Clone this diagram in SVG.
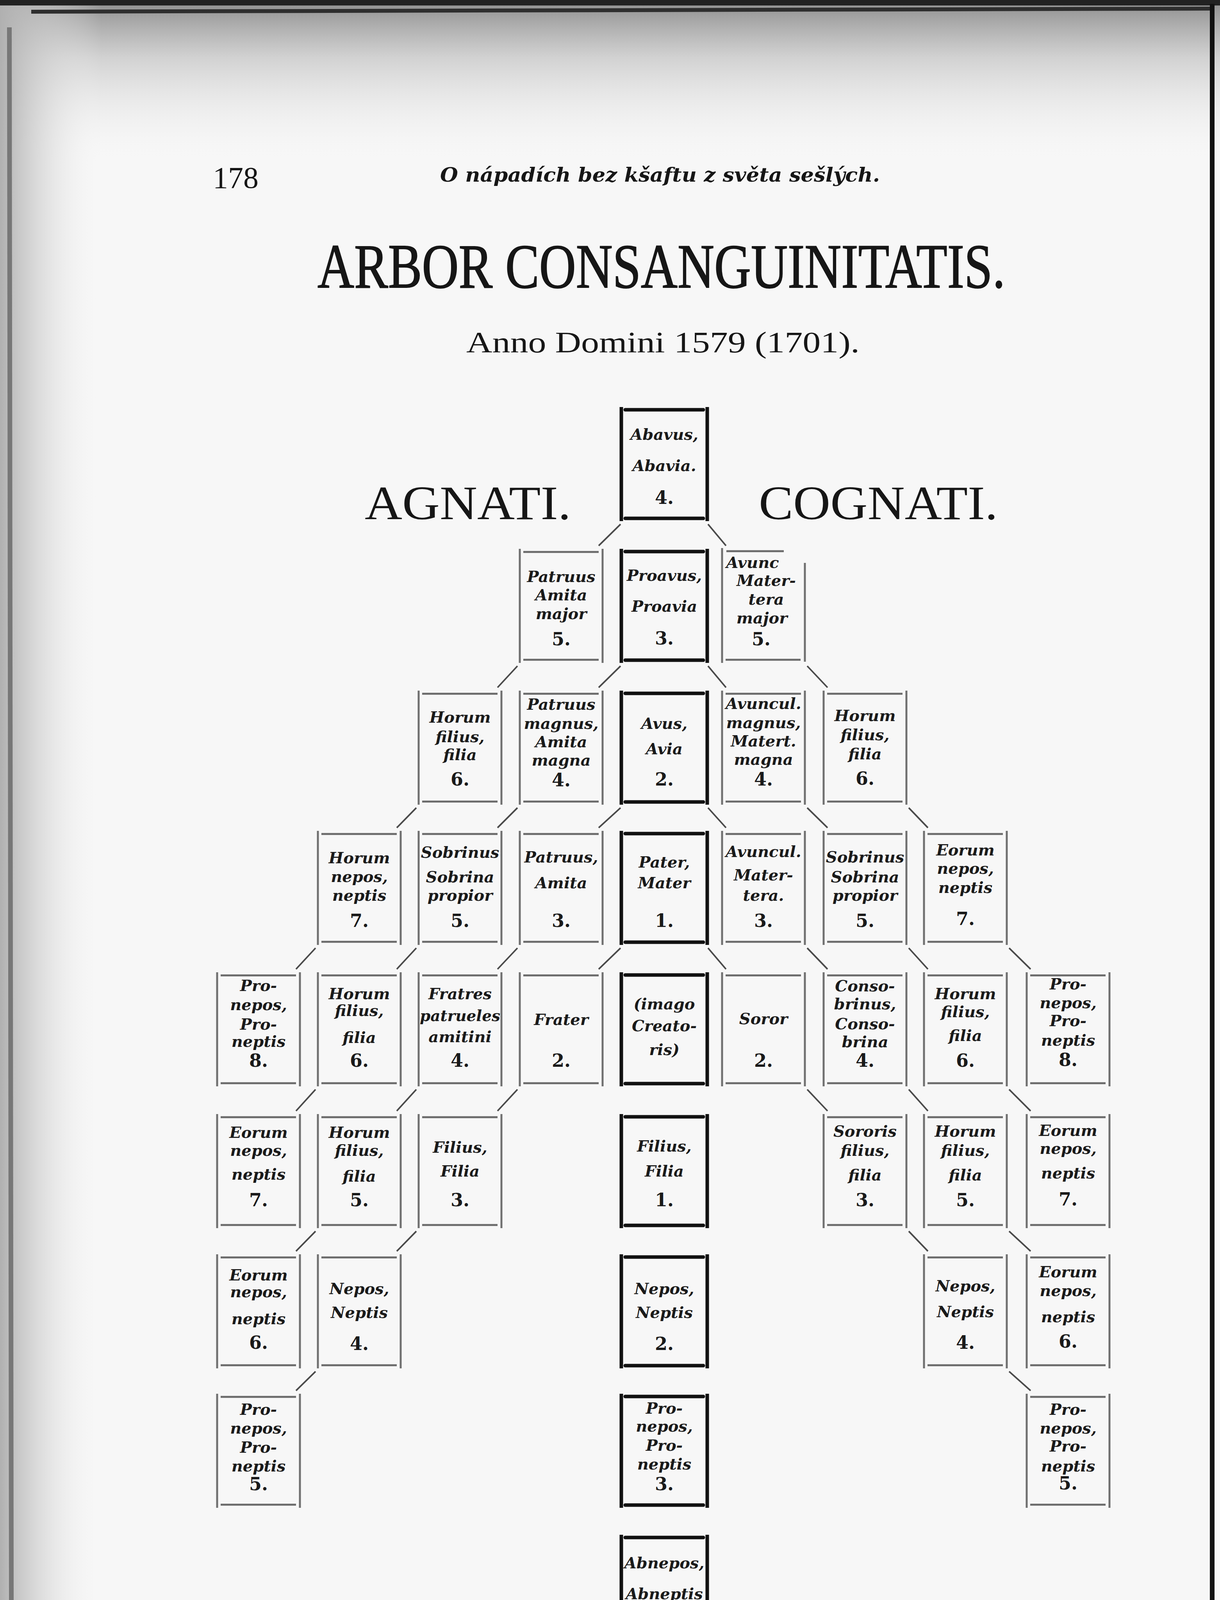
<svg xmlns="http://www.w3.org/2000/svg" xmlns:xlink="http://www.w3.org/1999/xlink" width="3124" height="4889" viewBox="0 0 3124 4889">
<style>
.v{stroke:#707070;stroke-width:5;fill:none}
.h{stroke:#6a6a6a;stroke-width:5;fill:none}
.kv{stroke:#111;stroke-width:9;fill:none}
.kh{stroke:#111;stroke-width:9;fill:none;stroke-linecap:round}
.c{stroke:#4a4a4a;stroke-width:4;fill:none}
.t{font-family:"DejaVu Serif",serif;font-style:italic;font-weight:bold;font-size:40px;fill:#1a1a1a;text-anchor:middle}
.n{font-family:"DejaVu Serif",serif;font-weight:bold;font-size:46px;fill:#1a1a1a;text-anchor:middle}
.hd{font-family:"Liberation Serif",serif;fill:#161616}
.hs{stroke:#161616;stroke-width:2}
</style>
<defs>
<linearGradient id="gt" x1="0" y1="0" x2="0" y2="1">
<stop offset="0" stop-color="#8c8c8c"/><stop offset="0.35" stop-color="#c8c8c8" stop-opacity="0.8"/><stop offset="1" stop-color="#f7f7f7" stop-opacity="0"/>
</linearGradient>
<linearGradient id="gl" x1="0" y1="0" x2="1" y2="0">
<stop offset="0" stop-color="#b0b0b0"/><stop offset="1" stop-color="#f7f7f7" stop-opacity="0"/>
</linearGradient>
<g id="tb">
<line class="v" x1="3" y1="0" x2="3" y2="292"/>
<line class="v" x1="215" y1="0" x2="215" y2="292"/>
<line class="h" x1="12" y1="8" x2="205" y2="8"/>
<line class="h" x1="12" y1="284" x2="205" y2="284"/>
</g>
<g id="kb">
<line class="kv" x1="4" y1="0" x2="4" y2="292"/>
<line class="kv" x1="224" y1="0" x2="224" y2="292"/>
<line class="kh" x1="14" y1="7" x2="214" y2="7"/>
<line class="kh" x1="14" y1="285" x2="214" y2="285"/>
</g>
</defs>

<g id="page">
<rect x="0" y="0" width="3124" height="4889" fill="#f7f7f7"/>
<rect x="0" y="0" width="3124" height="420" fill="url(#gt)"/>
<rect x="0" y="0" width="260" height="4889" fill="url(#gl)"/>
<rect x="0" y="0" width="3124" height="14" fill="#222"/>
<line x1="80" y1="30" x2="3100" y2="22" stroke="#2e2e2e" stroke-width="10"/>
<line x1="24" y1="70" x2="30" y2="4889" stroke="#777" stroke-width="12"/>
<line x1="3104" y1="10" x2="3104" y2="4889" stroke="#111" stroke-width="12"/>
<polygon points="0,4872 3060,4848 3100,4830 3124,4820 3124,4889 0,4889" fill="#0c0c0c"/>
</g>

<g id="header">
<text class="hd" x="545" y="481" font-size="78">178</text>
<text x="1127" y="465" font-family="DejaVu Serif, serif" font-style="italic" font-weight="bold" font-size="50" fill="#161616" textLength="1126" lengthAdjust="spacingAndGlyphs">O nápadích bez kšaftu z světa sešlých.</text>
<text class="hd hs" x="813" y="736" font-size="160" textLength="1761" lengthAdjust="spacingAndGlyphs">ARBOR CONSANGUINITATIS.</text>
<text class="hd" x="1194" y="902" font-size="77" textLength="1007" lengthAdjust="spacingAndGlyphs">Anno Domini 1579 (1701).</text>
<text class="hd" x="934" y="1329" font-size="122" textLength="528" lengthAdjust="spacingAndGlyphs">AGNATI.</text>
<text class="hd" x="1943" y="1329" font-size="122" textLength="612" lengthAdjust="spacingAndGlyphs">COGNATI.</text>
</g>

<g id="connectors">
<line class="c" x1="1589" y1="1342" x2="1533" y2="1397"/>
<line class="c" x1="1813" y1="1342" x2="1859" y2="1397"/>

<line class="c" x1="1589" y1="1705" x2="1533" y2="1760"/>
<line class="c" x1="1325" y1="1705" x2="1274" y2="1760"/>
<line class="c" x1="1813" y1="1705" x2="1859" y2="1760"/>
<line class="c" x1="2067" y1="1705" x2="2119" y2="1760"/>

<line class="c" x1="1589" y1="2068" x2="1533" y2="2119"/>
<line class="c" x1="1325" y1="2068" x2="1274" y2="2119"/>
<line class="c" x1="1066" y1="2068" x2="1016" y2="2119"/>
<line class="c" x1="1813" y1="2068" x2="1859" y2="2119"/>
<line class="c" x1="2067" y1="2068" x2="2119" y2="2119"/>
<line class="c" x1="2327" y1="2068" x2="2376" y2="2119"/>

<line class="c" x1="1589" y1="2427" x2="1533" y2="2481"/>
<line class="c" x1="1325" y1="2427" x2="1274" y2="2481"/>
<line class="c" x1="1066" y1="2427" x2="1016" y2="2481"/>
<line class="c" x1="808" y1="2427" x2="758" y2="2481"/>
<line class="c" x1="1813" y1="2427" x2="1859" y2="2481"/>
<line class="c" x1="2067" y1="2427" x2="2119" y2="2481"/>
<line class="c" x1="2327" y1="2427" x2="2376" y2="2481"/>
<line class="c" x1="2584" y1="2427" x2="2639" y2="2481"/>

<line class="c" x1="1325" y1="2789" x2="1274" y2="2844"/>
<line class="c" x1="1066" y1="2789" x2="1016" y2="2844"/>
<line class="c" x1="808" y1="2789" x2="758" y2="2844"/>
<line class="c" x1="2067" y1="2789" x2="2119" y2="2844"/>
<line class="c" x1="2327" y1="2789" x2="2376" y2="2844"/>
<line class="c" x1="2584" y1="2789" x2="2639" y2="2844"/>

<line class="c" x1="1066" y1="3152" x2="1016" y2="3203"/>
<line class="c" x1="808" y1="3152" x2="758" y2="3203"/>
<line class="c" x1="2327" y1="3152" x2="2376" y2="3203"/>
<line class="c" x1="2584" y1="3152" x2="2639" y2="3203"/>

<line class="c" x1="808" y1="3511" x2="758" y2="3560"/>
<line class="c" x1="2584" y1="3511" x2="2639" y2="3560"/>
</g>

<g id="n-abavus">
<use xlink:href="#kb" x="1587" y="1042"/>
<text class="t" x="1701" y="1126">Abavus,</text>
<text class="t" x="1701" y="1206">Abavia.</text>
<text class="n" x="1701" y="1290">4.</text>
</g>

<g id="n-patruus-major">
<use xlink:href="#tb" x="1328" y="1405"/>
<text class="t" x="1437" y="1490">Patruus</text>
<text class="t" x="1437" y="1537">Amita</text>
<text class="t" x="1437" y="1585">major</text>
<text class="n" x="1437" y="1652">5.</text>
</g>
<g id="n-proavus">
<use xlink:href="#kb" x="1587" y="1405"/>
<text class="t" x="1701" y="1487">Proavus,</text>
<text class="t" x="1701" y="1566">Proavia</text>
<text class="n" x="1701" y="1650">3.</text>
</g>
<g id="n-avunc-major">
<line class="v" x1="1849" y1="1403" x2="1849" y2="1697"/>
<line class="v" x1="2061" y1="1441" x2="2061" y2="1694"/>
<line class="h" x1="1860" y1="1411" x2="2007" y2="1411"/>
<line class="h" x1="1858" y1="1689" x2="2050" y2="1689"/>
<text class="t" x="1927" y="1454">Avunc</text>
<text class="t" x="1962" y="1500">Mater-</text>
<text class="t" x="1962" y="1548">tera</text>
<text class="t" x="1951" y="1596">major</text>
<text class="n" x="1949" y="1652">5.</text>
</g>

<g id="n-r2-C">
<use xlink:href="#tb" x="1069" y="1768"/>
<text class="t" x="1178" y="1850">Horum</text>
<text class="t" x="1178" y="1900">filius,</text>
<text class="t" x="1178" y="1946">filia</text>
<text class="n" x="1178" y="2011">6.</text>
</g>
<g id="n-r2-D">
<use xlink:href="#tb" x="1328" y="1768"/>
<text class="t" x="1437" y="1817">Patruus</text>
<text class="t" x="1437" y="1866">magnus,</text>
<text class="t" x="1437" y="1913">Amita</text>
<text class="t" x="1437" y="1960">magna</text>
<text class="n" x="1437" y="2013">4.</text>
</g>
<g id="n-avus">
<use xlink:href="#kb" x="1587" y="1768"/>
<text class="t" x="1701" y="1866">Avus,</text>
<text class="t" x="1701" y="1931">Avia</text>
<text class="n" x="1701" y="2011">2.</text>
</g>
<g id="n-r2-F">
<use xlink:href="#tb" x="1846" y="1768"/>
<text class="t" x="1955" y="1815">Avuncul.</text>
<text class="t" x="1955" y="1864">magnus,</text>
<text class="t" x="1955" y="1911">Matert.</text>
<text class="t" x="1955" y="1958">magna</text>
<text class="n" x="1955" y="2011">4.</text>
</g>
<g id="n-r2-G">
<use xlink:href="#tb" x="2106" y="1768"/>
<text class="t" x="2215" y="1846">Horum</text>
<text class="t" x="2215" y="1895">filius,</text>
<text class="t" x="2215" y="1944">filia</text>
<text class="n" x="2215" y="2009">6.</text>
</g>

<g id="n-r3-B">
<use xlink:href="#tb" x="811" y="2127"/>
<text class="t" x="920" y="2210">Horum</text>
<text class="t" x="920" y="2258">nepos,</text>
<text class="t" x="920" y="2306">neptis</text>
<text class="n" x="920" y="2373">7.</text>
</g>
<g id="n-r3-C">
<use xlink:href="#tb" x="1069" y="2127"/>
<text class="t" x="1178" y="2196">Sobrinus</text>
<text class="t" x="1178" y="2259">Sobrina</text>
<text class="t" x="1178" y="2306">propior</text>
<text class="n" x="1178" y="2373">5.</text>
</g>
<g id="n-r3-D">
<use xlink:href="#tb" x="1328" y="2127"/>
<text class="t" x="1437" y="2208">Patruus,</text>
<text class="t" x="1437" y="2274">Amita</text>
<text class="n" x="1437" y="2373">3.</text>
</g>
<g id="n-pater">
<use xlink:href="#kb" x="1587" y="2127"/>
<text class="t" x="1701" y="2221">Pater,</text>
<text class="t" x="1701" y="2274">Mater</text>
<text class="n" x="1701" y="2373">1.</text>
</g>
<g id="n-r3-F">
<use xlink:href="#tb" x="1846" y="2127"/>
<text class="t" x="1955" y="2194">Avuncul.</text>
<text class="t" x="1955" y="2254">Mater-</text>
<text class="t" x="1955" y="2306">tera.</text>
<text class="n" x="1955" y="2373">3.</text>
</g>
<g id="n-r3-G">
<use xlink:href="#tb" x="2106" y="2127"/>
<text class="t" x="2215" y="2208">Sobrinus</text>
<text class="t" x="2215" y="2259">Sobrina</text>
<text class="t" x="2215" y="2306">propior</text>
<text class="n" x="2215" y="2373">5.</text>
</g>
<g id="n-r3-H">
<use xlink:href="#tb" x="2363" y="2127"/>
<text class="t" x="2472" y="2190">Eorum</text>
<text class="t" x="2472" y="2237">nepos,</text>
<text class="t" x="2472" y="2286">neptis</text>
<text class="n" x="2472" y="2368">7.</text>
</g>

<g id="n-r4-A">
<use xlink:href="#tb" x="553" y="2489"/>
<text class="t" x="662" y="2537">Pro-</text>
<text class="t" x="662" y="2586">nepos,</text>
<text class="t" x="662" y="2636">Pro-</text>
<text class="t" x="662" y="2680">neptis</text>
<text class="n" x="662" y="2731">8.</text>
</g>
<g id="n-r4-B">
<use xlink:href="#tb" x="811" y="2489"/>
<text class="t" x="920" y="2558">Horum</text>
<text class="t" x="920" y="2601">filius,</text>
<text class="t" x="920" y="2670">filia</text>
<text class="n" x="920" y="2731">6.</text>
</g>
<g id="n-r4-C">
<use xlink:href="#tb" x="1069" y="2489"/>
<text class="t" x="1178" y="2558">Fratres</text>
<text class="t" x="1178" y="2614" textLength="206" lengthAdjust="spacingAndGlyphs">patrueles</text>
<text class="t" x="1178" y="2668">amitini</text>
<text class="n" x="1178" y="2731">4.</text>
</g>
<g id="n-r4-D">
<use xlink:href="#tb" x="1328" y="2489"/>
<text class="t" x="1437" y="2624">Frater</text>
<text class="n" x="1437" y="2731">2.</text>
</g>
<g id="n-imago">
<use xlink:href="#kb" x="1587" y="2489"/>
<text class="t" x="1701" y="2584">(imago</text>
<text class="t" x="1701" y="2640">Creato-</text>
<text class="t" x="1701" y="2701">ris)</text>
</g>
<g id="n-r4-F">
<use xlink:href="#tb" x="1846" y="2489"/>
<text class="t" x="1955" y="2622">Soror</text>
<text class="n" x="1955" y="2731">2.</text>
</g>
<g id="n-r4-G">
<use xlink:href="#tb" x="2106" y="2489"/>
<text class="t" x="2215" y="2538">Conso-</text>
<text class="t" x="2215" y="2584">brinus,</text>
<text class="t" x="2215" y="2635">Conso-</text>
<text class="t" x="2215" y="2681">brina</text>
<text class="n" x="2215" y="2731">4.</text>
</g>
<g id="n-r4-H">
<use xlink:href="#tb" x="2363" y="2489"/>
<text class="t" x="2472" y="2558">Horum</text>
<text class="t" x="2472" y="2604">filius,</text>
<text class="t" x="2472" y="2665">filia</text>
<text class="n" x="2472" y="2731">6.</text>
</g>
<g id="n-r4-I">
<use xlink:href="#tb" x="2626" y="2489"/>
<text class="t" x="2735" y="2533">Pro-</text>
<text class="t" x="2735" y="2581">nepos,</text>
<text class="t" x="2735" y="2627">Pro-</text>
<text class="t" x="2735" y="2677">neptis</text>
<text class="n" x="2735" y="2729">8.</text>
</g>

<g id="n-r5-A">
<use xlink:href="#tb" x="553" y="2852"/>
<text class="t" x="662" y="2913">Eorum</text>
<text class="t" x="662" y="2959">nepos,</text>
<text class="t" x="662" y="3020">neptis</text>
<text class="n" x="662" y="3088">7.</text>
</g>
<g id="n-r5-B">
<use xlink:href="#tb" x="811" y="2852"/>
<text class="t" x="920" y="2913">Horum</text>
<text class="t" x="920" y="2959">filius,</text>
<text class="t" x="920" y="3025">filia</text>
<text class="n" x="920" y="3088">5.</text>
</g>
<g id="n-r5-C">
<use xlink:href="#tb" x="1069" y="2852"/>
<text class="t" x="1178" y="2951">Filius,</text>
<text class="t" x="1178" y="3012">Filia</text>
<text class="n" x="1178" y="3088">3.</text>
</g>
<g id="n-filius">
<use xlink:href="#kb" x="1587" y="2852"/>
<text class="t" x="1701" y="2948">Filius,</text>
<text class="t" x="1701" y="3012">Filia</text>
<text class="n" x="1701" y="3088">1.</text>
</g>
<g id="n-r5-G">
<use xlink:href="#tb" x="2106" y="2852"/>
<text class="t" x="2215" y="2910">Sororis</text>
<text class="t" x="2215" y="2959">filius,</text>
<text class="t" x="2215" y="3022">filia</text>
<text class="n" x="2215" y="3088">3.</text>
</g>
<g id="n-r5-H">
<use xlink:href="#tb" x="2363" y="2852"/>
<text class="t" x="2472" y="2910">Horum</text>
<text class="t" x="2472" y="2959">filius,</text>
<text class="t" x="2472" y="3022">filia</text>
<text class="n" x="2472" y="3088">5.</text>
</g>
<g id="n-r5-I">
<use xlink:href="#tb" x="2626" y="2852"/>
<text class="t" x="2735" y="2908">Eorum</text>
<text class="t" x="2735" y="2954">nepos,</text>
<text class="t" x="2735" y="3017">neptis</text>
<text class="n" x="2735" y="3086">7.</text>
</g>

<g id="n-r6-A">
<use xlink:href="#tb" x="553" y="3211"/>
<text class="t" x="662" y="3278">Eorum</text>
<text class="t" x="662" y="3321">nepos,</text>
<text class="t" x="662" y="3390">neptis</text>
<text class="n" x="662" y="3453">6.</text>
</g>
<g id="n-r6-B">
<use xlink:href="#tb" x="811" y="3211"/>
<text class="t" x="920" y="3313">Nepos,</text>
<text class="t" x="920" y="3374">Neptis</text>
<text class="n" x="920" y="3456">4.</text>
</g>
<g id="n-nepos">
<use xlink:href="#kb" x="1587" y="3211"/>
<text class="t" x="1701" y="3313">Nepos,</text>
<text class="t" x="1701" y="3374">Neptis</text>
<text class="n" x="1701" y="3456">2.</text>
</g>
<g id="n-r6-H">
<use xlink:href="#tb" x="2363" y="3211"/>
<text class="t" x="2472" y="3306">Nepos,</text>
<text class="t" x="2472" y="3372">Neptis</text>
<text class="n" x="2472" y="3453">4.</text>
</g>
<g id="n-r6-I">
<use xlink:href="#tb" x="2626" y="3211"/>
<text class="t" x="2735" y="3270">Eorum</text>
<text class="t" x="2735" y="3318">nepos,</text>
<text class="t" x="2735" y="3385">neptis</text>
<text class="n" x="2735" y="3450">6.</text>
</g>

<g id="n-r7-A">
<use xlink:href="#tb" x="553" y="3568"/>
<text class="t" x="662" y="3622">Pro-</text>
<text class="t" x="662" y="3670">nepos,</text>
<text class="t" x="662" y="3719">Pro-</text>
<text class="t" x="662" y="3767">neptis</text>
<text class="n" x="662" y="3815">5.</text>
</g>
<g id="n-pronepos">
<use xlink:href="#kb" x="1587" y="3568"/>
<text class="t" x="1701" y="3619">Pro-</text>
<text class="t" x="1701" y="3665">nepos,</text>
<text class="t" x="1701" y="3714">Pro-</text>
<text class="t" x="1701" y="3762">neptis</text>
<text class="n" x="1701" y="3815">3.</text>
</g>
<g id="n-r7-I">
<use xlink:href="#tb" x="2626" y="3568"/>
<text class="t" x="2735" y="3622">Pro-</text>
<text class="t" x="2735" y="3670">nepos,</text>
<text class="t" x="2735" y="3716">Pro-</text>
<text class="t" x="2735" y="3767">neptis</text>
<text class="n" x="2735" y="3813">5.</text>
</g>

<g id="n-abnepos">
<use xlink:href="#kb" x="1587" y="3929"/>
<text class="t" x="1701" y="4015">Abnepos,</text>
<text class="t" x="1701" y="4094">Abneptis</text>
<text class="n" x="1701" y="4175">4.</text>
</g>
</svg>
